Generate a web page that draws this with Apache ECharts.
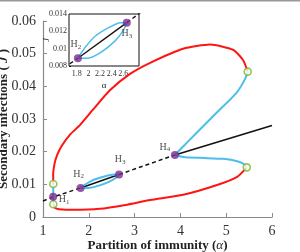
<!DOCTYPE html>
<html><head><meta charset="utf-8">
<script src="https://cdn.jsdelivr.net/npm/echarts@6/dist/echarts.min.js"></script>
<style>html,body{margin:0;padding:0;background:#fff}#c{width:300px;height:252px}</style>
</head><body><div id="c"></div>
<script>
// ---- data ----
const xTicks = [1, 2, 3, 4, 5, 6];
const yTicks = [0, 0.01, 0.02, 0.03, 0.04, 0.05, 0.06];
const insetXTicks = [1.8, 2, 2.2, 2.4, 2.6];
const insetYTicks = [0.008, 0.01, 0.012, 0.014];

const redUpper = [[1.225,0.0101],[1.222,0.0130],[1.25,0.0162],[1.31,0.0190],[1.41,0.0218],[1.59,0.0252],[1.81,0.0282],[2.1,0.0330],[2.46,0.0388],[2.9,0.0438],[3.34,0.0472],[4.06,0.0515],[4.65,0.0528],[5.15,0.0512],[5.37,0.0480],[5.47,0.0445]];
const redLower = [[1.225,0.0039],[1.26,0.0028],[1.35,0.0024],[1.66,0.0022],[2.24,0.0025],[2.8,0.0037],[3.34,0.0052],[4.06,0.0068],[4.8,0.0098],[5.24,0.0123],[5.45,0.0152]];
const blackDashA = [[1.0,0.0049],[1.22,0.0061],[1.82,0.0089]];
const blackSolidA = [[1.82,0.0089],[2.66,0.0130]];
const blackDashB = [[2.66,0.0130],[3.88,0.0190]];
const blackSolidB = [[3.88,0.0190],[6.0,0.0280]];
const cyanH1Up = [[1.222,0.0062],[1.225,0.0101]];
const cyanH1Down = [[1.222,0.0062],[1.225,0.0039]];
const cyanLensUpper = [[1.82,0.0089],[1.94,0.0101],[2.11,0.0114],[2.34,0.0124],[2.55,0.0130],[2.66,0.0130]];
const cyanLensLower = [[1.82,0.0089],[1.99,0.0089],[2.22,0.0096],[2.46,0.0109],[2.60,0.0121],[2.66,0.0130]];
const cyanH4Upper = [[3.88,0.0190],[4.06,0.0216],[4.28,0.0247],[4.79,0.0319],[5.23,0.0381],[5.41,0.0422],[5.47,0.0445]];
const cyanH4Lower = [[3.88,0.0190],[4.06,0.0184],[4.43,0.0181],[4.94,0.0178],[5.26,0.0170],[5.41,0.0160],[5.45,0.0152]];
const hopfPoints = [[1.222,0.0062],[1.82,0.0089],[2.66,0.0130],[3.88,0.0190]];
const hopfNames = ['1','2','3','4'];
const foldPoints = [[1.225,0.0101],[1.225,0.0039],[5.47,0.0445],[5.45,0.0152]];

// ---- styles ----
const RED = '#ff1414', CYAN = '#4cbdec', BLACK = '#111', PURPLE = '#7a2d8d', GREEN = '#78b52c';
const SERIF = '"Liberation Serif","DejaVu Serif",serif';
const AX = '#8a8a8a';
const mainLabelOffsets = [[11,3],[-2,-14],[1,-15],[-10,-8]];
const insetLabelOffsets = {1:[-2,-14], 2:[0,11]};

function hLabel(i, off) {
  return {show:true, position:'inside', offset:off,
    formatter:'{h|H}{s|' + hopfNames[i] + '}',
    rich:{h:{fontFamily:SERIF,fontSize:10,color:'#222'},
          s:{fontFamily:SERIF,fontSize:7,color:'#222',padding:[5,0,0,0]}}};
}

function lineS(data, color, width, idx, dashed) {
  return {type:'line', data:data, xAxisIndex:idx, yAxisIndex:idx, symbol:'none',
    smooth: data.length > 2 ? 0.2 : false, clip:true, silent:true, animation:false,
    lineStyle:{color:color, width:width, type: dashed ? [4,3] : 'solid'}, z:idx ? 10 : 2};
}

function curves(idx, w) {
  const s = [];
  s.push(lineS(blackDashA, BLACK, w*0.75, idx, true));
  s.push(lineS(blackSolidA, BLACK, w*0.75, idx, false));
  s.push(lineS(blackDashB, BLACK, w*0.75, idx, true));
  s.push(lineS(blackSolidB, BLACK, w*0.75, idx, false));
  if (idx === 0) {
    s.push(lineS(redUpper, RED, w, idx, false));
    s.push(lineS(redLower, RED, w, idx, false));
    s.push(lineS(cyanH1Up, CYAN, w, idx, false));
    s.push(lineS(cyanH1Down, CYAN, w, idx, false));
    s.push(lineS(cyanH4Upper, CYAN, w, idx, false));
    s.push(lineS(cyanH4Lower, CYAN, w, idx, false));
  }
  s.push(lineS(cyanLensUpper, CYAN, w*(idx?0.8:1), idx, false));
  s.push(lineS(cyanLensLower, CYAN, w*(idx?0.8:1), idx, false));
  return s;
}

const series = curves(0, 2).concat(curves(1, 1.8));
series.push({type:'scatter', xAxisIndex:0, yAxisIndex:0, symbolSize:7, z:5, animation:false,
  itemStyle:{color:'#fff', borderColor:GREEN, borderWidth:1.6},
  data: foldPoints.map(p => ({value:p}))});
series.push({type:'scatter', xAxisIndex:0, yAxisIndex:0, symbolSize:8, z:6, animation:false,
  itemStyle:{color:PURPLE},
  data: hopfPoints.map((p,i) => ({value:p, label:hLabel(i, mainLabelOffsets[i])}))});
series.push({type:'scatter', xAxisIndex:1, yAxisIndex:1, symbolSize:8, z:12, animation:false, clip:false,
  itemStyle:{color:PURPLE},
  data: [1,2].map(i => ({value:hopfPoints[i], label:hLabel(i, insetLabelOffsets[i])}))});

const tickFont = {fontFamily:SERIF, fontSize:14, color:'#333'};
const insetFont = {fontFamily:SERIF, fontSize:8, color:'#333'};

const option = {
  animation:false,
  backgroundColor:'#fff',
  graphic:[{type:'rect', left:0, top:0, shape:{width:300, height:1.5}, style:{fill:'#999'}}],
  grid:[
    {left:43, right:28, top:21, bottom:35, outerBoundsMode:'none', containLabel:false},
    {left:69, top:14, width:70, height:52, show:true, borderColor:'#111', borderWidth:1, backgroundColor:'#fff', z:1,
     outerBoundsMode:'none', containLabel:false}
  ],
  xAxis:[
    {type:'value', gridIndex:0, min:1, max:6, interval:1,
     axisLine:{show:true, lineStyle:{color:AX, width:1.2}},
     axisTick:{show:true, inside:true, length:4, lineStyle:{color:AX}},
     axisLabel:Object.assign({margin:7, customValues:xTicks}, tickFont),
     splitLine:{show:false},
     name:'{b|Partition of immunity (}{i|α}{b|)}', nameLocation:'middle', nameGap:22, nameMoveOverlap:false,
     nameTextStyle:{rich:{b:{fontFamily:SERIF,fontSize:13,fontWeight:'bold',color:'#222'},
                          i:{fontFamily:SERIF,fontSize:13,fontStyle:'italic',color:'#222'}}}},
    {type:'value', gridIndex:1, min:1.667, max:2.87,
     axisLine:{show:false},
     axisTick:{show:true, inside:true, length:2, customValues:insetXTicks, lineStyle:{color:'#111'}},
     axisLabel:Object.assign({margin:4, customValues:insetXTicks}, insetFont),
     splitLine:{show:false},
     name:'α', nameLocation:'middle', nameGap:15, nameMoveOverlap:false,
     nameTextStyle:{fontFamily:SERIF, fontSize:9, color:'#222'}}
  ],
  yAxis:[
    {type:'value', gridIndex:0, min:0, max:0.06, interval:0.01,
     axisLine:{show:true, lineStyle:{color:AX, width:1.2}},
     axisTick:{show:true, inside:true, length:4, lineStyle:{color:AX}},
     axisLabel:Object.assign({margin:7}, tickFont),
     splitLine:{show:false},
     name:'{b|Secondary infections ( }{i|J}{b| )}', nameLocation:'middle', nameGap:33, nameMoveOverlap:false,
     nameTextStyle:{rich:{b:{fontFamily:SERIF,fontSize:13,fontWeight:'bold',color:'#222'},
                          i:{fontFamily:SERIF,fontSize:13,fontStyle:'italic',fontWeight:'bold',color:'#222'}}}},
    {type:'value', gridIndex:1, min:0.008, max:0.014,
     axisLine:{show:false},
     axisTick:{show:true, inside:true, length:2, customValues:insetYTicks, lineStyle:{color:'#111'}},
     axisLabel:Object.assign({margin:2, customValues:insetYTicks, formatter:v => String(+v.toFixed(3))}, insetFont),
     splitLine:{show:false},
     name:'J', nameLocation:'middle', nameGap:18, nameMoveOverlap:false,
     nameTextStyle:{fontFamily:SERIF, fontSize:9, fontStyle:'italic', color:'#222'}}
  ],
  series: series
};
const chart = echarts.init(document.getElementById('c'), null, {renderer:'canvas'});
chart.setOption(option);
</script></body></html>
